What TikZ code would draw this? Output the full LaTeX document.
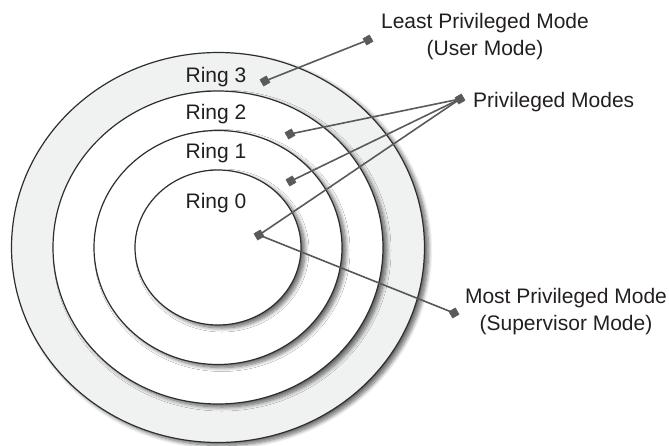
\documentclass[tikz,border=0pt]{standalone}
\usepackage{fontspec}
\setmainfont{Liberation Sans}
\usetikzlibrary{shadows.blur}
\definecolor{ringline}{HTML}{2E2E2E}
\definecolor{ringgray}{HTML}{F0F1F1}
\definecolor{leader}{HTML}{5A5A5A}
\definecolor{labeltext}{HTML}{231F20}
\tikzset{
  ring/.style={draw=ringline,line width=1.2pt,
    blur shadow={shadow xshift=4pt,shadow yshift=-3pt,shadow blur radius=4pt,shadow blur steps=8,shadow opacity=60}},
  dotmark/.style={draw=leader,fill=leader,rectangle,rotate=30,minimum size=7.5pt,inner sep=0pt},
  leadline/.style={draw=leader,line width=1.6pt},
  lbl/.style={font=\fontsize{21}{27}\selectfont,text=labeltext,inner sep=0pt}
}
\begin{document}
\begin{tikzpicture}[x=1pt,y=-1pt]\tikzstyle{every node} = [align=center]
      \useasboundingbox (0,0) rectangle (669,445);

      % the four rings
      \path[ring,fill=ringgray] (218,247.5) ellipse [x radius=206.5,y radius=195];
      \path[ring,fill=white] (218,247.5) ellipse [x radius=165,y radius=156.5];
      \path[ring,fill=white] (218,247.5) ellipse [x radius=124,y radius=117];
      \path[ring,fill=white] (218,247.5) ellipse [x radius=83,y radius=77.5];

      \node[lbl,anchor=base] (r3) at (216,82)  {Ring 3};
      \node[lbl,anchor=base] (r2) at (216,119) {Ring 2};
      \node[lbl,anchor=base] (r1) at (216,158) {Ring 1};
      \node[lbl,anchor=base] (r0) at (216,208) {Ring 0};

      % markers
      \node[dotmark] (m3) at (265,81) {};
      \node[dotmark] (m2) at (290,134) {};
      \node[dotmark] (m1) at (291,181) {};
      \node[dotmark] (m0) at (259,235) {};
      \node[dotmark] (least) at (368,40) {};
      \node[dotmark] (priv) at (460,99) {};
      \node[dotmark] (most) at (454,313) {};

      \draw[leadline] (m3.center) -- (least.center);
      \draw[leadline] (m2.center) -- (priv.center);
      \draw[leadline] (m1.center) -- (priv.center);
      \draw[leadline] (m0.center) -- (priv.center);
      \draw[leadline] (m0.center) -- (most.center);

      \node[lbl,anchor=base] (leasttxt) at (485,55) {Least Privileged Mode\\(User Mode)};
      \node[lbl,anchor=base west] (privtxt) at (473,107) {Privileged Modes};
      \node[lbl,anchor=base] (mosttxt) at (566,330) {Most Privileged Mode\\(Supervisor Mode)};
    \end{tikzpicture}
\end{document}
